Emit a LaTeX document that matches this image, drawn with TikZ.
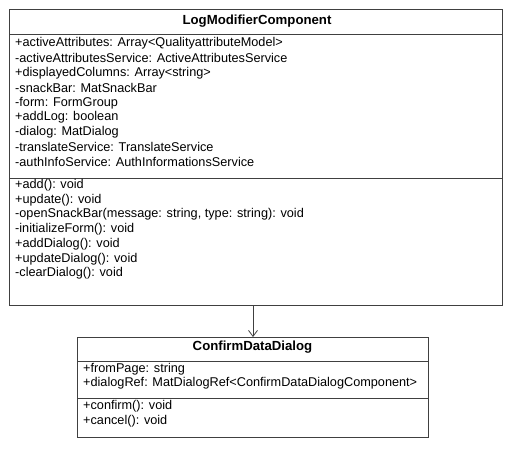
\documentclass[tikz,border=0pt]{standalone}
\usepackage{fontspec}
\setmainfont{Liberation Sans}
\usetikzlibrary{arrows.meta}
\begin{document}
\begin{tikzpicture}[x=1pt,y=-1pt,
  boxline/.style={draw=black!75,line width=0.8pt},
  umlbox/.style={boxline,fill=white,inner sep=0pt,anchor=north west},
  member/.style={anchor=west,inner sep=0pt,font=\fontsize{12.7}{14}\selectfont},
  title/.style={inner sep=0pt,font=\fontsize{13.2}{15}\selectfont\bfseries},
  assoc/.style={draw=black!75,line width=0.8pt,-{Straight Barb[length=6pt,width=9pt]}}]
\useasboundingbox (0,0) rectangle (514,448);
% Box 1
\node[umlbox,minimum width=493pt,minimum height=296pt] (log) at (9,9) {};
\draw[boxline] (9,34) -- (502,34);
\draw[boxline] (9,178) -- (502,178);
\node[title] (logt) at (257,21) {LogModifierComponent};
\node[member] (a1) at (15,43) {+activeAttributes: Array<QualityattributeModel>};
\node[member] (a2) at (15,58) {-activeAttributesService: ActiveAttributesService};
\node[member] (a3) at (15,73) {+displayedColumns: Array<string>};
\node[member] (a4) at (15,88) {-snackBar: MatSnackBar};
\node[member] (a5) at (15,103) {-form: FormGroup};
\node[member] (a6) at (15,117) {+addLog: boolean};
\node[member] (a7) at (15,132) {-dialog: MatDialog};
\node[member] (a8) at (15,147) {-translateService: TranslateService};
\node[member] (a9) at (15,162) {-authInfoService: AuthInformationsService};
\node[member] (m1) at (15,185) {+add(): void};
\node[member] (m2) at (15,200) {+update(): void};
\node[member] (m3) at (15,214) {-openSnackBar(message: string, type: string): void};
\node[member] (m4) at (15,229) {-initializeForm(): void};
\node[member] (m5) at (15,244) {+addDialog(): void};
\node[member] (m6) at (15,259) {+updateDialog(): void};
\node[member] (m7) at (15,273) {-clearDialog(): void};
% Box 2
\node[umlbox,minimum width=351pt,minimum height=100pt] (cdd) at (77,337) {};
\draw[boxline] (77,361) -- (428,361);
\draw[boxline] (77,398) -- (428,398);
\node[title] (cddt) at (252.5,347) {ConfirmDataDialog};
\node[member] (b1) at (83,369) {+fromPage: string};
\node[member] (b2) at (83,383) {+dialogRef: MatDialogRef<ConfirmDataDialogComponent>};
\node[member] (c1) at (83,406) {+confirm(): void};
\node[member] (c2) at (83,421) {+cancel(): void};
% connector
\coordinate (s) at (253,305);
\coordinate (e) at (253,337);
\draw[assoc] (s) -- (e);
\end{tikzpicture}
\end{document}
